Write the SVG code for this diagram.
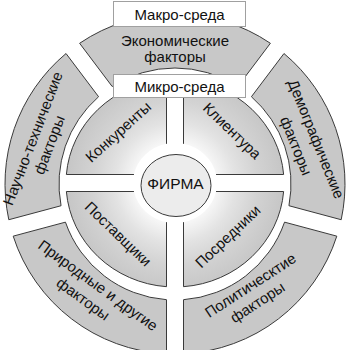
<svg xmlns="http://www.w3.org/2000/svg" width="350" height="350" viewBox="0 0 350 350">
<style>
.outer{fill:#c8c8c8;stroke:#3a3a3a;stroke-width:1}
.inner{fill:url(#g)}
.istroke{fill:none;stroke:#3a3a3a;stroke-width:1}
.box{fill:#fff;stroke:#a0a0a0;stroke-width:1}
text{font-family:"Liberation Sans",Arial,sans-serif;font-size:15px;fill:#111;text-anchor:middle}
</style>
<defs>
<radialGradient id="g" gradientUnits="userSpaceOnUse" cx="175" cy="183" r="109">
<stop offset="0.38" stop-color="#f6f6f6"/>
<stop offset="0.55" stop-color="#e3e3e3"/>
<stop offset="0.75" stop-color="#d3d3d3"/>
<stop offset="1" stop-color="#c6c6c6"/>
</radialGradient>
</defs>
<rect width="350" height="350" fill="#fff"/>
<g id="econ">
<path class="outer" d="M 79.61 43.28 A 170 170 0 0 1 270.39 43.28 L 237.83 86.49 A 116 116 0 0 0 112.17 86.49 Z"/>
<text x="175" y="45.5">Экономические</text>
<text x="175" y="61.5">факторы</text>
</g>
<g id="demo">
<path class="outer" d="M 283.97 53.52 A 170 170 0 0 1 341.2 219.73 L 288.95 205.73 A 116 116 0 0 0 251.41 96.73 Z"/>
<text transform="translate(316 139) rotate(68)" y="5">Демографические</text>
<text transform="translate(296 146) rotate(68)" y="5">факторы</text>
</g>
<g id="polit">
<path class="outer" d="M 336.8 236.15 A 170 170 0 0 1 183.5 353.79 L 183.5 299.69 A 116 116 0 0 0 284.55 222.15 Z"/>
<text transform="translate(250.5 285.5) rotate(-33)" y="5">Политическтие</text>
<text transform="translate(257.5 302.5) rotate(-33)" y="5">факторы</text>
</g>
<g id="prirod">
<path class="outer" d="M 166.5 353.79 A 170 170 0 0 1 13.2 236.15 L 65.45 222.15 A 116 116 0 0 0 166.5 299.69 Z"/>
<text transform="translate(98 285.5) rotate(36)" y="5">Природные и другие</text>
<text transform="translate(83 299) rotate(36)" y="5">факторы</text>
</g>
<g id="nauch">
<path class="outer" d="M 8.8 219.73 A 170 170 0 0 1 66.03 53.52 L 98.59 96.73 A 116 116 0 0 0 61.05 205.73 Z"/>
<text transform="translate(33 138.5) rotate(-69)" y="5">Научно-технические</text>
<text transform="translate(49.5 145) rotate(-69)" y="5">факторы</text>
</g>
<g id="konk">
<path class="inner" d="M 66.36 174.5 A 109 104 0 0 1 166.5 79.32 L 166.5 143.83 A 42 40 0 0 0 133.96 174.5 Z"/>
<path class="istroke" d="M 133.96 174.5 L 66.36 174.5 A 109 104 0 0 1 166.5 79.32 L 166.5 143.83"/>
<text transform="translate(118.5 132) rotate(-42)" y="5">Конкуренты</text>
</g>
<g id="klient">
<path class="inner" d="M 183.5 79.32 A 109 104 0 0 1 283.64 174.5 L 216.04 174.5 A 42 40 0 0 0 183.5 143.83 Z"/>
<path class="istroke" d="M 183.5 143.83 L 183.5 79.32 A 109 104 0 0 1 283.64 174.5 L 216.04 174.5"/>
<text transform="translate(232 131) rotate(44)" y="5">Клиентура</text>
</g>
<g id="posred">
<path class="inner" d="M 283.64 191.5 A 109 104 0 0 1 183.5 286.68 L 183.5 222.17 A 42 40 0 0 0 216.04 191.5 Z"/>
<path class="istroke" d="M 216.04 191.5 L 283.64 191.5 A 109 104 0 0 1 183.5 286.68 L 183.5 222.17"/>
<text transform="translate(228 236.5) rotate(-43.5)" y="5">Посредники</text>
</g>
<g id="postav">
<path class="inner" d="M 166.5 286.68 A 109 104 0 0 1 66.36 191.5 L 133.96 191.5 A 42 40 0 0 0 166.5 222.17 Z"/>
<path class="istroke" d="M 166.5 222.17 L 166.5 286.68 A 109 104 0 0 1 66.36 191.5 L 133.96 191.5"/>
<text transform="translate(118 234) rotate(44)" y="5">Поставщики</text>
</g>
<g id="firma">
<ellipse cx="176" cy="185.5" rx="35" ry="31" fill="#ececec" stroke="#3a3a3a" stroke-width="1"/>
<text x="175.5" y="188.5" style="font-size:15.5px">ФИРМА</text>
</g>
<g id="makro">
<rect class="box" x="113.5" y="1.5" width="132" height="25"/>
<text x="179.5" y="19.5">Макро-среда</text>
</g>
<g id="mikro">
<rect class="box" x="113.5" y="74.5" width="132" height="23"/>
<text x="179.5" y="92">Микро-среда</text>
</g>
</svg>
